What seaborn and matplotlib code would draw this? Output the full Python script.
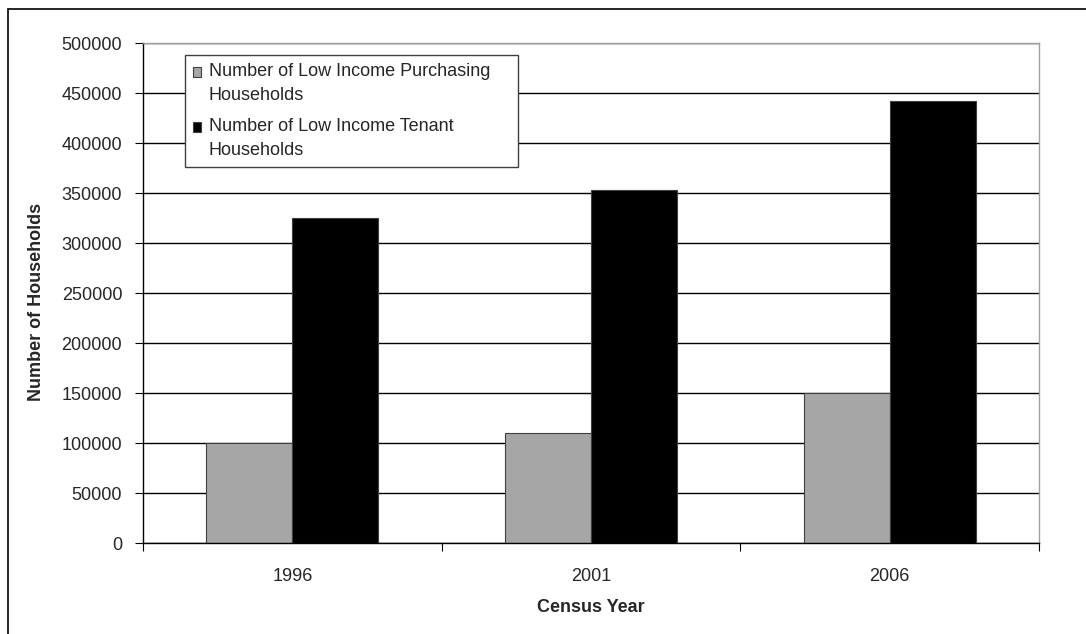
import matplotlib
matplotlib.use("Agg")
import matplotlib.pyplot as plt
import seaborn as sns
import pandas as pd
from matplotlib.ticker import FuncFormatter, MultipleLocator
from matplotlib.patches import Rectangle
from matplotlib.legend_handler import HandlerPatch

years = ["1996", "2001", "2006"]
purchasing = [100000, 110000, 150000]
tenant = [325000, 353000, 442000]
series_names = ["Number of Low Income Purchasing\nHouseholds",
                "Number of Low Income Tenant\nHouseholds"]
colors = ["#a6a6a6", "#000000"]

df = pd.DataFrame({
    "year": years * 2,
    "value": purchasing + tenant,
    "series": [series_names[0]] * 3 + [series_names[1]] * 3,
})

sns.set_style("white")
plt.rcParams["font.family"] = ["Liberation Sans", "DejaVu Sans"]
FS = 13

fig = plt.figure(figsize=(10.86, 6.34), dpi=100)
ax = fig.add_axes([143 / 1086, 1 - 543 / 634, (1039 - 143) / 1086, 500 / 634])

sns.barplot(data=df, x="year", y="value", hue="series", palette=colors,
            width=0.575, ax=ax, edgecolor="#404040", linewidth=0.8,
            saturation=1)

ax.set_ylim(0, 500000)
ax.set_xlim(-0.5, 2.5)
ax.yaxis.set_major_locator(MultipleLocator(50000))
ax.yaxis.set_major_formatter(FuncFormatter(lambda v, p: f"{int(v)}"))
ax.grid(axis="y", color="#000000", linewidth=1.0)
ax.set_axisbelow(True)

for s in ["top", "right"]:
    ax.spines[s].set_color("#a0a0a0")
    ax.spines[s].set_linewidth(1.0)
for s in ["left", "bottom"]:
    ax.spines[s].set_color("#000000")
    ax.spines[s].set_linewidth(1.0)

ax.tick_params(axis="y", which="major", length=6, width=0.8, color="#000000",
               labelsize=FS, pad=9, direction="out", left=True)
ax.tick_params(axis="x", which="major", length=0, labelsize=FS, pad=18)
ax.set_xticks([0, 1, 2])
ax.set_xticks([-0.5, 0.5, 1.5, 2.5], minor=True)
ax.tick_params(axis="x", which="minor", length=6, width=0.8, color="#000000",
               direction="out", bottom=True)

ax.set_ylabel("Number of Households", fontsize=FS, fontweight="bold")
ax.set_xlabel("Census Year", fontsize=FS, fontweight="bold")
ax.yaxis.set_label_coords(-0.109, 0.482)
ax.xaxis.set_label_coords(0.5, -0.112)


def top_square(legend, orig_handle, xdescent, ydescent, width, height, fontsize):
    return Rectangle((-xdescent, -ydescent + 0.65 * fontsize), width, height)


leg = ax.legend(loc="upper left", bbox_to_anchor=(0.047, 0.976), fontsize=FS,
                frameon=True, fancybox=False, shadow=False, framealpha=1,
                edgecolor="#404040", handlelength=0.45, handleheight=0.45,
                handletextpad=0.4, borderpad=0.45, labelspacing=0.8,
                borderaxespad=0,
                handler_map={Rectangle: HandlerPatch(patch_func=top_square)})
leg.get_frame().set_linewidth(1.0)
for t in leg.get_texts():
    t.set_linespacing(1.52)
    lines = t.get_text().split("\n")
    lines[0] = lines[0] + "    "
    t.set_text("\n".join(lines))

fig.patches.append(Rectangle((8 / 1086, -0.1), 1.2, 1 - 9 / 634 + 0.1,
                             transform=fig.transFigure, fill=False,
                             edgecolor="#000000", linewidth=1.2, zorder=10))

fig.savefig("out.png", dpi=100, facecolor="white")
